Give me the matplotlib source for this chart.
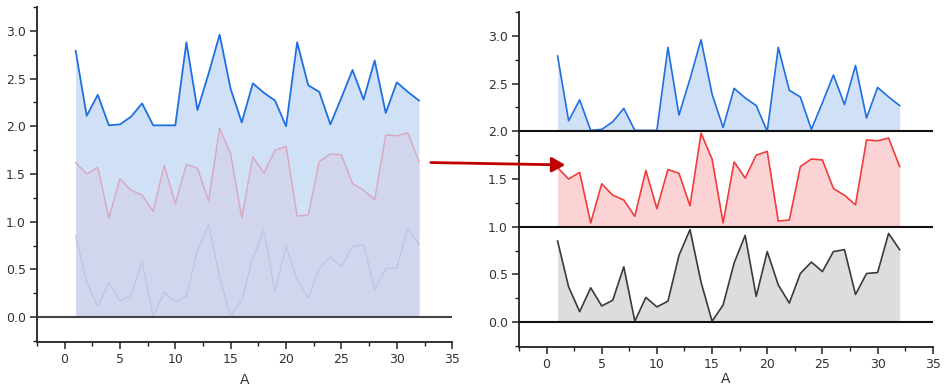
import numpy as np
import matplotlib
matplotlib.use('Agg')
import matplotlib.pyplot as plt
from matplotlib.ticker import MultipleLocator
from matplotlib.patches import FancyArrowPatch
from matplotlib.transforms import IdentityTransform

# Datos
x = list(range(1, 33))
blue = [2.79, 2.11, 2.33, 2.01, 2.02, 2.10, 2.24, 2.01, 2.01, 2.01, 2.88, 2.17,
        2.55, 2.96, 2.39, 2.04, 2.45, 2.35, 2.27, 2.00, 2.88, 2.43, 2.36, 2.02,
        2.30, 2.59, 2.28, 2.69, 2.14, 2.46, 2.36, 2.27]
red = [1.62, 1.50, 1.57, 1.04, 1.45, 1.33, 1.28, 1.11, 1.59, 1.19, 1.60, 1.56,
       1.22, 1.98, 1.71, 1.04, 1.68, 1.51, 1.75, 1.79, 1.06, 1.07, 1.63, 1.71,
       1.70, 1.40, 1.33, 1.23, 1.91, 1.90, 1.93, 1.63]
gray = [0.85, 0.37, 0.11, 0.36, 0.17, 0.23, 0.58, 0.01, 0.26, 0.16, 0.22, 0.70,
        0.97, 0.42, 0.01, 0.18, 0.62, 0.91, 0.27, 0.74, 0.39, 0.20, 0.51, 0.63,
        0.53, 0.74, 0.76, 0.29, 0.51, 0.52, 0.93, 0.76]
baselines = [2.0, 1.0, 0.0]

text_color = '#333333'
W, H = 946, 388

fig = plt.figure(figsize=(W / 100, H / 100), dpi=100)
ax1 = fig.add_axes([0.039, 0.1186, 0.439, 0.8634])
ax2 = fig.add_axes([0.5486, 0.1057, 0.4374, 0.8633])


def style_axes(ax, labelpad):
    ax.set_xlim(-2.5, 35)
    ax.set_ylim(-0.26, 3.25)
    ax.spines['top'].set_visible(False)
    ax.spines['right'].set_visible(False)
    for s in ['left', 'bottom']:
        ax.spines[s].set_linewidth(1.3)
        ax.spines[s].set_color('#222222')
    ax.xaxis.set_major_locator(MultipleLocator(5))
    ax.xaxis.set_minor_locator(MultipleLocator(2.5))
    ax.yaxis.set_minor_locator(MultipleLocator(0.25))
    ax.set_yticks([0, 0.5, 1.0, 1.5, 2.0, 2.5, 3.0])
    ax.set_yticklabels(['0.0', '0.5', '1.0', '1.5', '2.0', '2.5', '3.0'])
    ax.tick_params(which='major', length=5, width=1.1, direction='out',
                   labelsize=9, labelcolor=text_color, color='#222222', pad=3)
    ax.tick_params(which='minor', length=3, width=1.0, direction='out',
                   color='#222222')
    ax.set_xlabel('A', fontsize=10, color=text_color, labelpad=labelpad)


# Panel izquierdo: areas superpuestas desde 0
ax1.fill_between(x, 0, blue, color='#cfe0f7', lw=0, zorder=1)
ax1.fill_between(x, 0, red, color='#d1d5ed', lw=0, zorder=2)
ax1.plot(x, red, color='#d9a7bd', lw=1.0, zorder=3)
ax1.plot(x, gray, color='#c2c5df', lw=1.0, zorder=3)
ax1.plot(x, blue, color='#1f6fe0', lw=1.3, zorder=4)
ax1.axhline(0, color='#444444', lw=1.5, zorder=5)
style_axes(ax1, 5)

# Panel derecho: cada serie rellena hasta su linea base
series = [(blue, '#1f6fe0', '#cfe0f7'),
          (red, '#f03c3c', '#fbd3d5'),
          (gray, '#3a3a3a', '#dddddd')]
for (vals, lc, fc), base in zip(series, baselines):
    ax2.fill_between(x, base, vals, color=fc, lw=0, zorder=1)
    ax2.plot(x, vals, color=lc, lw=1.2, zorder=3)
    ax2.axhline(base, color='#111111', lw=1.5, zorder=4)
style_axes(ax2, 1)

# Flecha entre paneles (pixeles, origen abajo a la izquierda)
arrow = FancyArrowPatch((428, H - 162.5), (568, H - 165),
                        arrowstyle='-|>,head_length=8,head_width=4.5',
                        color='#c00000', lw=2.0, mutation_scale=1)
arrow.set_transform(IdentityTransform())
fig.patches.append(arrow)

plt.savefig('out.png', dpi=100)
